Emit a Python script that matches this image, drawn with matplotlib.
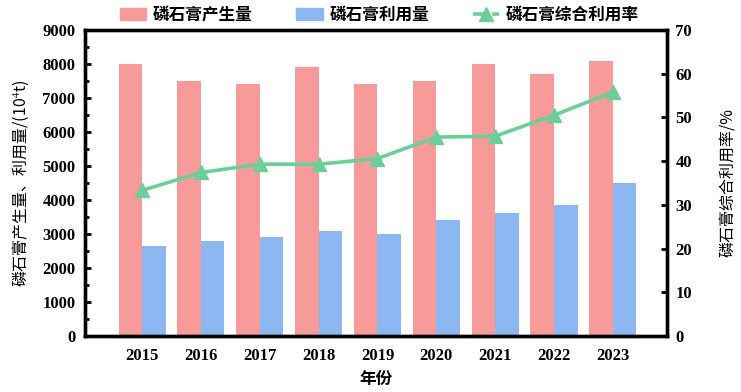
import numpy as np
import matplotlib
matplotlib.use('Agg')
import matplotlib.pyplot as plt
from matplotlib.ticker import MultipleLocator
from matplotlib.patches import Patch
from matplotlib.lines import Line2D

plt.rcParams['font.family'] = ['Noto Sans CJK SC', 'DejaVu Sans']
plt.rcParams['mathtext.fontset'] = 'stix'
plt.rcParams['axes.unicode_minus'] = False

# 数据
years = ['2015', '2016', '2017', '2018', '2019', '2020', '2021', '2022', '2023']
produce = [8000, 7500, 7400, 7900, 7400, 7500, 8000, 7700, 8100]
utilize = [2650, 2780, 2900, 3100, 3000, 3400, 3630, 3860, 4500]
rate = [33.3, 37.4, 39.3, 39.3, 40.6, 45.5, 45.7, 50.5, 55.8]

c_red = '#F69A9A'
c_blue = '#8DB7F0'
c_green = '#6DCE98'
num_font = {'family': 'Liberation Serif', 'weight': 'bold', 'size': 12}

x = np.arange(len(years))
w = 0.4

fig = plt.figure(figsize=(7.41, 3.92), dpi=100)
ax = fig.add_axes([0.1147, 0.1429, 0.7854, 0.7806])
ax2 = ax.twinx()

ax.bar(x - w / 2, produce, w, color=c_red, zorder=2)
ax.bar(x + w / 2, utilize, w, color=c_blue, zorder=2)
ax2.plot(x, rate, color=c_green, lw=2.6, marker='^', ms=10, zorder=3)

ax.set_xlim(-0.97, 8.92)
ax.set_ylim(0, 9000)
ax2.set_ylim(0, 70)
ax.yaxis.set_major_locator(MultipleLocator(1000))
ax.yaxis.set_minor_locator(MultipleLocator(500))
ax2.yaxis.set_major_locator(MultipleLocator(10))

ax.set_xticks(x)
ax.set_xticklabels(years, fontdict=num_font)
ax.tick_params(axis='x', length=0, pad=9)
ax.tick_params(axis='y', which='major', direction='in', length=4, width=2, pad=7)
ax.tick_params(axis='y', which='minor', direction='in', length=3, width=2)
ax2.tick_params(axis='y', direction='in', length=4, width=2, pad=6)
for lab in ax.get_yticklabels() + ax2.get_yticklabels():
    lab.set_fontproperties('Liberation Serif')
    lab.set_fontweight('bold')
    lab.set_fontsize(12)

for a in (ax, ax2):
    for s in a.spines.values():
        s.set_linewidth(2.4)

ax.set_xlabel('年份', fontsize=12, fontweight='bold', labelpad=4)
ax.set_ylabel('磷石膏产生量、利用量/(10$^4$t)', fontsize=11.5, fontweight='medium', labelpad=8)
ax2.set_ylabel('磷石膏综合利用率/%', fontsize=11.5, fontweight='medium', labelpad=20, rotation=90)

handles = [Patch(color=c_red), Patch(color=c_blue),
           Line2D([], [], color=c_green, lw=2.6, ls='--', marker='^', ms=10)]
labels = ['磷石膏产生量', '磷石膏利用量', '磷石膏综合利用率']
fig.legend(handles, labels, loc='center', bbox_to_anchor=(0.512, 0.962), ncol=3,
           frameon=False, prop={'size': 12, 'weight': 'bold'},
           handlelength=1.6, handletextpad=0.4, columnspacing=2.6)

plt.savefig('out.png', dpi=100)
